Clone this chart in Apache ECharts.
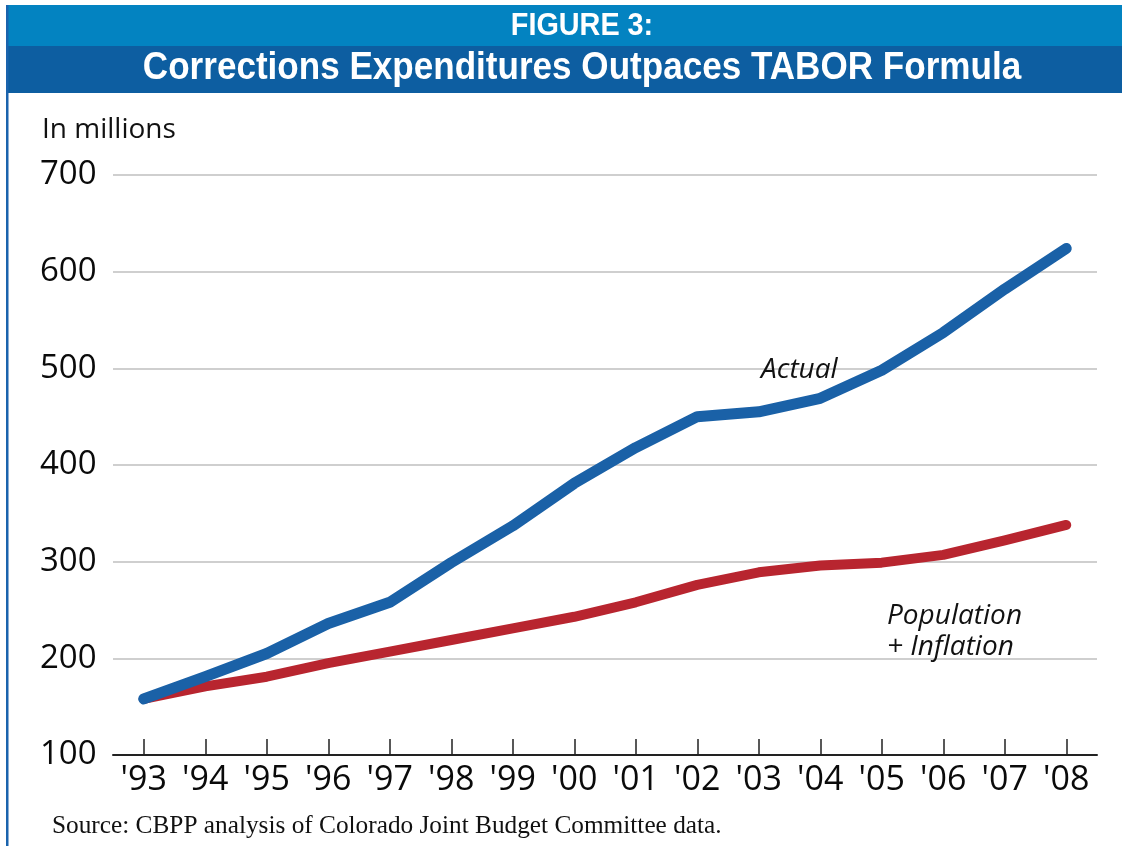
<!DOCTYPE html>
<html>
<head>
<meta charset="utf-8">
<script src="https://cdn.jsdelivr.net/npm/echarts@6/dist/echarts.min.js"></script>
<style>
html,body{margin:0;padding:0;background:#fff;}
#chart{width:1122px;height:846px;}
</style>
</head>
<body>
<div id="chart"></div>
<script>
// ---- data ----
const years = ["'93","'94","'95","'96","'97","'98","'99","'00","'01","'02","'03","'04","'05","'06","'07","'08"];
const actual = [158, 181, 205, 236, 258, 299, 337, 381, 418, 450, 455, 469, 498, 537, 582, 624];
const popInflation = [158, 171, 181, 195, 207, 219, 231, 243, 258, 276, 289, 296, 299, 307, 322, 338];
const yTicks = [100, 200, 300, 400, 500, 600, 700];

const figLabel = 'FIGURE 3:';
const titleText = 'Corrections Expenditures Outpaces TABOR Formula';
const unitText = 'In millions';
const sourceText = 'Source: CBPP analysis of Colorado Joint Budget Committee data.';

const headFont = "'Liberation Sans', Arial, sans-serif";
const bodyFont = "'Open Sans', 'Noto Sans', sans-serif";

const chart = echarts.init(document.getElementById('chart'), null, {renderer: 'canvas'});
chart.setOption({
  backgroundColor: '#ffffff',
  animation: false,
  graphic: [
    {type: 'rect', shape: {x: 6, y: 5, width: 1116, height: 41}, style: {fill: '#0383c1'}, z: 0},
    {type: 'rect', shape: {x: 6, y: 46, width: 1116, height: 47}, style: {fill: '#0d5ea1'}, z: 0},
    {type: 'rect', shape: {x: 6, y: 5, width: 2.5, height: 841}, style: {fill: '#1a63ad'}, z: 1},
    {type: 'text', x: 582, y: 26, scaleX: 0.9, z: 5, style: {text: figLabel, x: 0, y: 0, align: 'center', verticalAlign: 'middle', fill: '#ffffff', font: "bold 32px " + headFont}},
    {type: 'text', x: 582, y: 69, scaleX: 0.923, z: 5, style: {text: titleText, x: 0, y: 0, align: 'center', verticalAlign: 'middle', fill: '#ffffff', font: "bold 38px " + headFont}},
    {type: 'text', z: 5, style: {text: unitText, x: 42, y: 130, verticalAlign: 'middle', fill: '#111111', font: "28px " + bodyFont}},
    {type: 'text', z: 5, style: {text: sourceText, x: 52, y: 826, verticalAlign: 'middle', fill: '#111111', font: "25.3px 'Liberation Serif', 'DejaVu Serif', serif"}},
    {type: 'text', z: 5, style: {text: 'Actual', x: 761, y: 370, verticalAlign: 'middle', fill: '#111111', font: "italic 28px " + bodyFont}},
    {type: 'text', z: 5, style: {text: 'Population', x: 887, y: 616, verticalAlign: 'middle', fill: '#111111', font: "italic 28px " + bodyFont}},
    {type: 'text', z: 5, style: {text: '+ Inflation', x: 887, y: 647, verticalAlign: 'middle', fill: '#111111', font: "italic 28px " + bodyFont}}
  ],
  grid: {left: 113, right: 25, top: 175, bottom: 91, containLabel: false},
  xAxis: {
    type: 'category',
    data: years,
    boundaryGap: true,
    axisLine: {show: true, lineStyle: {color: '#222222', width: 2}},
    axisTick: {show: true, alignWithLabel: true, inside: true, length: 16, lineStyle: {color: '#222222', width: 1.5}},
    axisLabel: {color: '#0a0a0a', fontSize: 34, fontFamily: bodyFont, margin: 7, lineHeight: 36},
    splitLine: {show: false}
  },
  yAxis: {
    type: 'value',
    min: 100, max: 700, interval: 100,
    axisLine: {show: false},
    axisTick: {show: false},
    axisLabel: {color: '#0a0a0a', fontSize: 33, fontFamily: bodyFont, align: 'left', margin: 73,
      customValues: yTicks},
    splitLine: {show: true, lineStyle: {color: '#cfcfcf', width: 2}}
  },
  series: [
    {
      name: 'Population + Inflation', type: 'line', data: popInflation,
      symbol: 'none', smooth: false,
      lineStyle: {color: '#b8252f', width: 10, cap: 'round', join: 'round'},
      z: 3
    },
    {
      name: 'Actual', type: 'line', data: actual,
      symbol: 'none', smooth: false,
      lineStyle: {color: '#1a61a7', width: 11, cap: 'round', join: 'round'},
      z: 4
    }
  ]
});
</script>
</body>
</html>
